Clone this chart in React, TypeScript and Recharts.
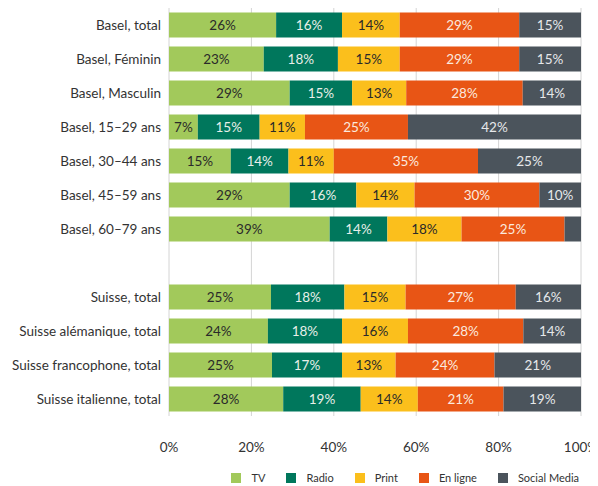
import { BarChart, Bar, XAxis, YAxis, CartesianGrid, Legend, LabelList } from "recharts";

const categories = [
  "Basel, total",
  "Basel, Féminin",
  "Basel, Masculin",
  "Basel, 15–29 ans",
  "Basel, 30–44 ans",
  "Basel, 45–59 ans",
  "Basel, 60–79 ans",
  "",
  "Suisse, total",
  "Suisse alémanique, total",
  "Suisse francophone, total",
  "Suisse italienne, total",
];

const tv = [26, 23, 29, 7, 15, 29, 39, null, 25, 24, 25, 28];
const radio = [16, 18, 15, 15, 14, 16, 14, null, 18, 18, 17, 19];
const print = [14, 15, 13, 11, 11, 14, 18, null, 15, 16, 13, 14];
const online = [29, 29, 28, 25, 35, 30, 25, null, 27, 28, 24, 21];
const social = [15, 15, 14, 42, 25, 10, 4, null, 16, 14, 21, 19];

const xTicks = [0, 0.2, 0.4, 0.6, 0.8, 1];

const FONT = "Lato, 'Open Sans', sans-serif";

const series = [
  { key: "tv", name: "TV", color: "#a2c95b", text: "#2a2a2a" },
  { key: "radio", name: "Radio", color: "#00775c", text: "#e8efe9" },
  { key: "print", name: "Print", color: "#fbbf1c", text: "#2a2a2a" },
  { key: "online", name: "En ligne", color: "#e85515", text: "#fbe9df" },
  { key: "social", name: "Social Media", color: "#4b545c", text: "#e6e8ea" },
];

const data = categories.map((name, i) => ({
  name,
  tv: tv[i],
  radio: radio[i],
  print: print[i],
  online: online[i],
  social: social[i],
}));

// plain text tick so long labels don't wrap
function CategoryTick(props: any) {
  const { x, y, payload } = props;
  return (
    <text x={x} y={y} dy={4.5} textAnchor="end" fontSize={13.5} fill="#333" fontFamily={FONT}>
      {payload.value}
    </text>
  );
}

function LegendBox() {
  return (
    <div
      style={{
        display: "flex",
        justifyContent: "flex-end",
        fontFamily: FONT,
        fontSize: 11,
        color: "#333",
        lineHeight: "12px",
        height: 12,
        paddingRight: 2,
      }}
    >
      {series.map((s) => (
        <div key={s.key} style={{ display: "flex", alignItems: "center", marginLeft: 21 }}>
          <span style={{ width: 10, height: 10, background: s.color, marginRight: 10, display: "inline-block" }} />
          <span>{s.name}</span>
        </div>
      ))}
    </div>
  );
}

export default function App() {
  return (
    <BarChart
      width={590}
      height={478}
      data={data}
      layout="vertical"
      stackOffset="expand"
      barCategoryGap={4.5}
      margin={{ top: 0, right: 17, left: 0, bottom: 2 }}
    >
      <CartesianGrid horizontal={false} stroke="#d4d4d4" />
      <XAxis
        type="number"
        domain={[0, 1]}
        ticks={xTicks}
        tickFormatter={(v) => `${Math.round(v * 100)}%`}
        axisLine={false}
        tickLine={false}
        tickSize={0}
        tickMargin={26}
        height={56}
        tick={{ fontSize: 13.5, fill: "#333", fontFamily: FONT }}
        interval={0}
      />
      <YAxis
        type="category"
        dataKey="name"
        width={161}
        axisLine={false}
        tickLine={false}
        tickSize={0}
        tickMargin={8}
        interval={0}
        tick={<CategoryTick />}
      />
      <Legend verticalAlign="bottom" align="right" content={() => <LegendBox />} />
      {series.map((s) => (
        <Bar key={s.key} dataKey={s.key} name={s.name} stackId="a" fill={s.color} isAnimationActive={false}>
          <LabelList
            dataKey={s.key}
            position="center"
            fill={s.text}
            fontSize={13.5}
            fontFamily={FONT}
            formatter={(v: any) => (v != null && v >= 5 ? `${v}%` : "")}
          />
        </Bar>
      ))}
    </BarChart>
  );
}
